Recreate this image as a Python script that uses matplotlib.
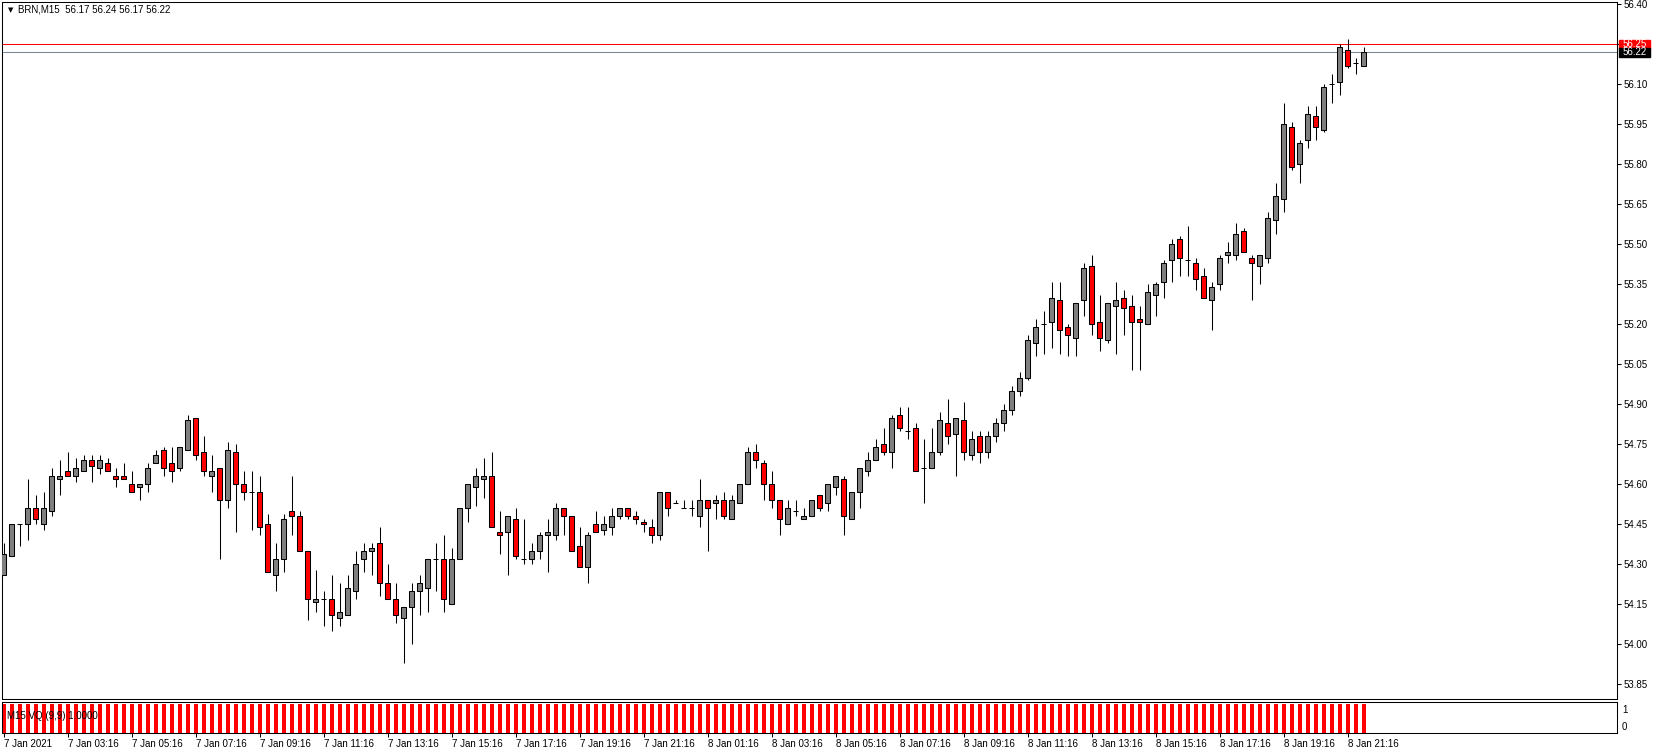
import numpy as np
import matplotlib
matplotlib.use("Agg")
import matplotlib.pyplot as plt
from matplotlib.patches import Rectangle
from matplotlib.transforms import blended_transform_factory

# BRN M15 bars, 7 Jan 2021 -> 8 Jan 2021
opens = [54.26, 54.33, 54.45, 54.45, 54.51, 54.45, 54.50, 54.62, 54.65, 54.63,
         54.65, 54.69, 54.66, 54.68, 54.63, 54.63, 54.60, 54.59, 54.60, 54.68,
         54.73, 54.68, 54.66, 54.73, 54.85, 54.72, 54.63, 54.66, 54.54, 54.72,
         54.60, 54.57, 54.57, 54.45, 54.26, 54.32, 54.50, 54.48, 54.35, 54.16,
         54.17, 54.17, 54.10, 54.11, 54.20, 54.32, 54.35, 54.38, 54.23, 54.17,
         54.10, 54.14, 54.20, 54.21, 54.32, 54.32, 54.15, 54.32, 54.51, 54.59,
         54.62, 54.63, 54.42, 54.42, 54.47, 54.32, 54.32, 54.35, 54.41, 54.41,
         54.51, 54.48, 54.37, 54.29, 54.45, 54.43, 54.44, 54.48, 54.51, 54.48,
         54.46, 54.44, 54.41, 54.57, 54.53, 54.51, 54.51, 54.48, 54.54, 54.53,
         54.54, 54.47, 54.53, 54.60, 54.72, 54.68, 54.60, 54.54, 54.45, 54.50,
         54.47, 54.48, 54.56, 54.53, 54.59, 54.62, 54.47, 54.57, 54.65, 54.69,
         54.75, 54.72, 54.86, 54.80, 54.81, 54.66, 54.66, 54.72, 54.83, 54.79,
         54.84, 54.71, 54.78, 54.72, 54.78, 54.83, 54.88, 54.95, 55.00, 55.13,
         55.20, 55.21, 55.29, 55.19, 55.15, 55.29, 55.42, 55.21, 55.14, 55.27,
         55.30, 55.27, 55.22, 55.20, 55.31, 55.36, 55.44, 55.52, 55.44, 55.43,
         55.38, 55.29, 55.35, 55.46, 55.46, 55.55, 55.45, 55.42, 55.45, 55.59,
         55.67, 55.94, 55.80, 55.89, 55.98, 55.93, 56.10, 56.11, 56.23, 56.18,
         56.17]
highs = [54.38, 54.45, 54.45, 54.62, 54.56, 54.57, 54.66, 54.69, 54.72, 54.70,
         54.71, 54.71, 54.71, 54.70, 54.66, 54.68, 54.65, 54.60, 54.68, 54.73,
         54.74, 54.74, 54.74, 54.86, 54.85, 54.78, 54.71, 54.66, 54.76, 54.75,
         54.65, 54.65, 54.63, 54.49, 54.38, 54.49, 54.63, 54.50, 54.35, 54.28,
         54.20, 54.26, 54.23, 54.26, 54.35, 54.38, 54.38, 54.44, 54.30, 54.23,
         54.14, 54.23, 54.26, 54.32, 54.38, 54.41, 54.36, 54.51, 54.60, 54.66,
         54.70, 54.72, 54.50, 54.48, 54.51, 54.47, 54.38, 54.42, 54.47, 54.53,
         54.51, 54.48, 54.44, 54.42, 54.50, 54.48, 54.51, 54.51, 54.51, 54.50,
         54.47, 54.47, 54.57, 54.57, 54.54, 54.54, 54.54, 54.62, 54.54, 54.56,
         54.57, 54.56, 54.60, 54.74, 54.75, 54.69, 54.65, 54.54, 54.54, 54.54,
         54.51, 54.54, 54.56, 54.60, 54.63, 54.63, 54.57, 54.66, 54.72, 54.77,
         54.81, 54.86, 54.89, 54.89, 54.83, 54.77, 54.81, 54.87, 54.92, 54.85,
         54.91, 54.80, 54.80, 54.80, 54.85, 54.90, 54.97, 55.02, 55.16, 55.22,
         55.25, 55.36, 55.36, 55.20, 55.28, 55.43, 55.46, 55.31, 55.28, 55.36,
         55.33, 55.31, 55.27, 55.35, 55.36, 55.44, 55.52, 55.53, 55.57, 55.45,
         55.41, 55.36, 55.46, 55.51, 55.58, 55.56, 55.46, 55.46, 55.62, 55.73,
         56.03, 55.96, 55.89, 56.02, 56.02, 56.10, 56.14, 56.25, 56.27, 56.20,
         56.24]
lows = [54.26, 54.33, 54.37, 54.39, 54.45, 54.43, 54.48, 54.56, 54.63, 54.61,
        54.65, 54.61, 54.64, 54.65, 54.59, 54.62, 54.57, 54.54, 54.57, 54.68,
        54.63, 54.61, 54.65, 54.73, 54.69, 54.63, 54.57, 54.32, 54.51, 54.42,
        54.54, 54.43, 54.41, 54.27, 54.20, 54.27, 54.41, 54.35, 54.09, 54.12,
        54.07, 54.05, 54.07, 54.11, 54.17, 54.27, 54.26, 54.18, 54.17, 54.08,
        53.93, 54.00, 54.11, 54.12, 54.20, 54.12, 54.15, 54.32, 54.46, 54.52,
        54.55, 54.44, 54.34, 54.26, 54.32, 54.30, 54.30, 54.32, 54.27, 54.39,
        54.41, 54.35, 54.29, 54.23, 54.42, 54.41, 54.41, 54.47, 54.47, 54.45,
        54.42, 54.38, 54.39, 54.48, 54.53, 54.51, 54.48, 54.44, 54.35, 54.47,
        54.47, 54.47, 54.53, 54.60, 54.66, 54.54, 54.51, 54.41, 54.45, 54.48,
        54.47, 54.48, 54.50, 54.50, 54.56, 54.41, 54.47, 54.51, 54.63, 54.69,
        54.71, 54.66, 54.80, 54.77, 54.65, 54.53, 54.66, 54.71, 54.75, 54.63,
        54.69, 54.69, 54.68, 54.70, 54.76, 54.80, 54.86, 54.93, 54.99, 55.08,
        55.09, 55.11, 55.09, 55.08, 55.08, 55.23, 55.16, 55.10, 55.13, 55.09,
        55.16, 55.03, 55.03, 55.20, 55.23, 55.30, 55.36, 55.38, 55.38, 55.33,
        55.30, 55.18, 55.33, 55.43, 55.44, 55.47, 55.29, 55.35, 55.43, 55.54,
        55.62, 55.78, 55.73, 55.86, 55.89, 55.92, 56.03, 56.06, 56.16, 56.14,
        56.17]
closes = [54.34, 54.45, 54.45, 54.51, 54.47, 54.51, 54.63, 54.63, 54.63, 54.66,
          54.69, 54.67, 54.69, 54.65, 54.62, 54.62, 54.57, 54.60, 54.66, 54.71,
          54.66, 54.65, 54.74, 54.84, 54.71, 54.65, 54.65, 54.54, 54.73, 54.60,
          54.57, 54.57, 54.44, 54.27, 54.32, 54.47, 54.48, 54.35, 54.17, 54.17,
          54.17, 54.11, 54.12, 54.21, 54.30, 54.35, 54.36, 54.23, 54.17, 54.11,
          54.14, 54.20, 54.23, 54.32, 54.32, 54.17, 54.32, 54.51, 54.60, 54.63,
          54.63, 54.44, 54.41, 54.48, 54.33, 54.32, 54.35, 54.41, 54.42, 54.51,
          54.48, 54.35, 54.29, 54.41, 54.42, 54.45, 54.48, 54.51, 54.48, 54.47,
          54.45, 54.41, 54.57, 54.51, 54.53, 54.51, 54.51, 54.54, 54.51, 54.54,
          54.48, 54.54, 54.60, 54.72, 54.69, 54.60, 54.54, 54.47, 54.51, 54.50,
          54.48, 54.54, 54.51, 54.60, 54.63, 54.48, 54.57, 54.66, 54.69, 54.74,
          54.72, 54.85, 54.81, 54.80, 54.65, 54.66, 54.72, 54.84, 54.78, 54.85,
          54.72, 54.77, 54.72, 54.78, 54.83, 54.88, 54.95, 55.00, 55.14, 55.19,
          55.20, 55.30, 55.18, 55.16, 55.28, 55.41, 55.20, 55.15, 55.28, 55.29,
          55.26, 55.21, 55.21, 55.32, 55.35, 55.43, 55.50, 55.45, 55.44, 55.37,
          55.30, 55.34, 55.45, 55.47, 55.54, 55.47, 55.43, 55.46, 55.60, 55.68,
          55.95, 55.79, 55.88, 55.99, 55.94, 56.09, 56.10, 56.24, 56.17, 56.18,
          56.22]

# VQ indicator, 1.0000 on every bar
vq = [1.0] * len(opens)

time_labels = ["7 Jan 2021", "7 Jan 03:16", "7 Jan 05:16", "7 Jan 07:16", "7 Jan 09:16",
               "7 Jan 11:16", "7 Jan 13:16", "7 Jan 15:16", "7 Jan 17:16", "7 Jan 19:16",
               "7 Jan 21:16", "8 Jan 01:16", "8 Jan 03:16", "8 Jan 05:16", "8 Jan 07:16",
               "8 Jan 09:16", "8 Jan 11:16", "8 Jan 13:16", "8 Jan 15:16", "8 Jan 17:16",
               "8 Jan 19:16", "8 Jan 21:16"]
price_ticks = [53.85, 54.00, 54.15, 54.30, 54.45, 54.60, 54.75, 54.90, 55.05,
               55.20, 55.35, 55.50, 55.65, 55.80, 55.95, 56.10, 56.25, 56.40]
ask_level = 56.25
bid_level = 56.22

W, H = 1657, 754
LW = 0.75
plt.rcParams['font.family'] = ['Liberation Sans', 'DejaVu Sans']

fig = plt.figure(figsize=(W / 100, H / 100), dpi=100)
ax = fig.add_axes([2 / W, 55 / H, 1615 / W, 697 / H])
ax2 = fig.add_axes([2 / W, 21 / H, 1615 / W, 31 / H])

o = np.array(opens)
h = np.array(highs)
l = np.array(lows)
c = np.array(closes)
x = np.arange(len(o))

ax.vlines(x, l, h, color='black', lw=LW, zorder=2)
body = o != c
cols = np.where(c > o, '#808080', 'red')
ax.bar(x[body], np.abs(c - o)[body], bottom=np.minimum(o, c)[body], width=0.6,
       color=cols[body], edgecolor='black', linewidth=LW, zorder=3)
ax.hlines(o[~body], x[~body] - 0.32, x[~body] + 0.32, color='black', lw=LW, zorder=3)

ax.axhline(ask_level, color='red', lw=LW, zorder=1)
ax.axhline(bid_level, color='#778899', lw=LW, zorder=1)

xmin, xmax = -0.21, 201.66
ax.set_xlim(xmin, xmax)
ax.set_ylim(53.795, 56.409)
ax.yaxis.tick_right()
ax.set_yticks(price_ticks)
ax.set_yticklabels(["%.2f" % v for v in price_ticks])
ax.tick_params(axis='y', direction='out', length=3, width=LW, labelsize=7, pad=2, colors='black')
ax.tick_params(axis='x', bottom=False, labelbottom=False)
for s in ax.spines.values():
    s.set_linewidth(LW)

# price tags on the right scale
tr = blended_transform_factory(fig.transFigure, ax.transData)
ax.add_patch(Rectangle((1619 / W, ask_level - 0.016), 31 / W, 0.032, transform=tr,
                       color='red', clip_on=False, zorder=5))
ax.text(1635 / W, ask_level, "%.2f" % ask_level, transform=tr, color='white', fontsize=7,
        ha='center', va='center', clip_on=False, zorder=6)
ax.add_patch(Rectangle((1619 / W, bid_level - 0.017), 31 / W, 0.034, transform=tr,
                       color='black', clip_on=False, zorder=7))
ax.text(1635 / W, bid_level, "%.2f" % bid_level, transform=tr, color='white', fontsize=7,
        ha='center', va='center', clip_on=False, zorder=8)

# indicator window
ax2.bar(x, vq, width=0.5, color='red')
ax2.set_xlim(xmin, xmax)
ax2.set_ylim(0, 1.06)
ax2.set_yticks([])
ax2.set_xticks(np.arange(0, 8 * len(time_labels), 8))
ax2.set_xticklabels(time_labels, ha='left', fontsize=7)
ax2.tick_params(axis='x', direction='out', length=3, width=LW, pad=1)
for s in ax2.spines.values():
    s.set_linewidth(LW)
ax2.text(1.003, 0.74, "1", transform=ax2.transAxes, fontsize=7, ha='left', va='center')
ax2.text(1.003, 0.2, "0", transform=ax2.transAxes, fontsize=7, ha='left', va='center')
fig.text(7 / W, 1 - 716 / H, "M15 VQ (9,9) 1.0000", fontsize=7, va='center')

fig.text(8 / W, 1 - 10 / H, "\u25bc", fontsize=5, va='center', family='DejaVu Sans')
fig.text(18 / W, 1 - 10 / H, "BRN,M15  56.17 56.24 56.17 56.22", fontsize=7, va='center')

fig.savefig('out.png', dpi=100)
